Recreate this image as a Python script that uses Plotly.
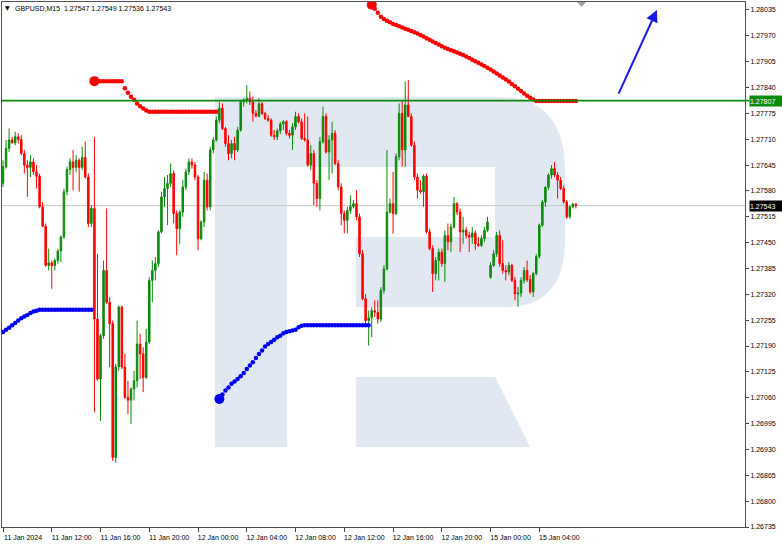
import plotly.graph_objects as go

# ---------------- data (GBPUSD, M15) ----------------
open_p = [1.27599, 1.27641, 1.27687, 1.27708, 1.27701, 1.27716, 1.27709, 1.27674, 1.27645, 1.27639,
          1.27653, 1.27628, 1.27617, 1.27540, 1.27491, 1.27393, 1.27399, 1.27392, 1.27405, 1.27429,
          1.27464, 1.27578, 1.27634, 1.27653, 1.27639, 1.27657, 1.27639, 1.27664, 1.27615, 1.27498,
          1.27536, 1.27258, 1.27107, 1.27216, 1.27380, 1.27300, 1.27246, 1.26910, 1.27138, 1.27288,
          1.27137, 1.27061, 1.27054, 1.27082, 1.27103, 1.27195, 1.27170, 1.27111, 1.27200, 1.27355,
          1.27380, 1.27397, 1.27477, 1.27565, 1.27586, 1.27599, 1.27624, 1.27523, 1.27485, 1.27527,
          1.27590, 1.27628, 1.27653, 1.27645, 1.27615, 1.27460, 1.27502, 1.27607, 1.27540, 1.27683,
          1.27708, 1.27758, 1.27788, 1.27737, 1.27699, 1.27674, 1.27699, 1.27683, 1.27733, 1.27804,
          1.27809, 1.27813, 1.27804, 1.27775, 1.27768, 1.27799, 1.27775, 1.27762, 1.27758, 1.27720,
          1.27716, 1.27731, 1.27748, 1.27754, 1.27725, 1.27720, 1.27741, 1.27767, 1.27754, 1.27712,
          1.27708, 1.27645, 1.27674, 1.27599, 1.27561, 1.27704, 1.27767, 1.27678, 1.27708, 1.27725,
          1.27649, 1.27590, 1.27523, 1.27506, 1.27531, 1.27541, 1.27548, 1.27515, 1.27422, 1.27309,
          1.27254, 1.27261, 1.27279, 1.27275, 1.27258, 1.27330, 1.27384, 1.27527, 1.27548, 1.27523,
          1.27666, 1.27775, 1.27683, 1.27796, 1.27767, 1.27695, 1.27615, 1.27582, 1.27578, 1.27617,
          1.27477, 1.27435, 1.27372, 1.27405, 1.27426, 1.27397, 1.27468, 1.27452, 1.27489, 1.27548,
          1.27527, 1.27477, 1.27481, 1.27468, 1.27464, 1.27474, 1.27447, 1.27443, 1.27460, 1.27481,
          1.27363, 1.27393, 1.27422, 1.27468, 1.27397, 1.27380, 1.27376, 1.27393, 1.27355, 1.27321,
          1.27323, 1.27355, 1.27380, 1.27357, 1.27326, 1.27372, 1.27415, 1.27494, 1.27552, 1.27589,
          1.27620, 1.27636, 1.27620, 1.27607, 1.27586, 1.27552, 1.27515, 1.27540, 1.27547]
high_p = [1.27657, 1.27708, 1.27737, 1.27716, 1.27729, 1.27725, 1.27720, 1.27683, 1.27657, 1.27670,
          1.27662, 1.27645, 1.27624, 1.27552, 1.27498, 1.27435, 1.27405, 1.27410, 1.27435, 1.27468,
          1.27586, 1.27641, 1.27662, 1.27683, 1.27670, 1.27662, 1.27691, 1.27704, 1.27624, 1.27544,
          1.27716, 1.27422, 1.27221, 1.27405, 1.27536, 1.27313, 1.27254, 1.27145, 1.27292, 1.27292,
          1.27170, 1.27103, 1.27086, 1.27128, 1.27254, 1.27221, 1.27187, 1.27233, 1.27363, 1.27405,
          1.27414, 1.27481, 1.27578, 1.27615, 1.27620, 1.27649, 1.27632, 1.27531, 1.27531, 1.27607,
          1.27636, 1.27662, 1.27662, 1.27653, 1.27620, 1.27506, 1.27628, 1.27624, 1.27691, 1.27716,
          1.27767, 1.27804, 1.27800, 1.27741, 1.27720, 1.27708, 1.27716, 1.27741, 1.27809, 1.27813,
          1.27846, 1.27830, 1.27817, 1.27783, 1.27813, 1.27804, 1.27779, 1.27771, 1.27762, 1.27733,
          1.27737, 1.27754, 1.27758, 1.27758, 1.27733, 1.27750, 1.27779, 1.27775, 1.27762, 1.27775,
          1.27767, 1.27695, 1.27683, 1.27607, 1.27716, 1.27792, 1.27775, 1.27720, 1.27754, 1.27733,
          1.27657, 1.27599, 1.27531, 1.27540, 1.27569, 1.27557, 1.27582, 1.27523, 1.27431, 1.27321,
          1.27279, 1.27288, 1.27305, 1.27305, 1.27338, 1.27393, 1.27683, 1.27561, 1.27628, 1.27674,
          1.27800, 1.27809, 1.27855, 1.27859, 1.27775, 1.27704, 1.27624, 1.27607, 1.27622, 1.27624,
          1.27485, 1.27443, 1.27414, 1.27435, 1.27435, 1.27481, 1.27498, 1.27498, 1.27565, 1.27552,
          1.27536, 1.27515, 1.27489, 1.27477, 1.27489, 1.27481, 1.27464, 1.27468, 1.27489, 1.27515,
          1.27401, 1.27431, 1.27477, 1.27481, 1.27456, 1.27393, 1.27401, 1.27397, 1.27363, 1.27338,
          1.27363, 1.27389, 1.27405, 1.27368, 1.27376, 1.27422, 1.27498, 1.27557, 1.27592, 1.27624,
          1.27645, 1.27653, 1.27628, 1.27615, 1.27594, 1.27557, 1.27544, 1.27550, 1.27549]
low_p = [1.27590, 1.27636, 1.27678, 1.27699, 1.27695, 1.27699, 1.27670, 1.27624, 1.27565, 1.27615,
         1.27620, 1.27586, 1.27536, 1.27489, 1.27389, 1.27380, 1.27334, 1.27380, 1.27397, 1.27401,
         1.27460, 1.27569, 1.27620, 1.27582, 1.27628, 1.27578, 1.27632, 1.27611, 1.27489, 1.27489,
         1.27023, 1.27103, 1.27002, 1.27208, 1.27296, 1.27137, 1.26901, 1.26897, 1.27128, 1.27132,
         1.27057, 1.27019, 1.26994, 1.27053, 1.27086, 1.27107, 1.27074, 1.27107, 1.27195, 1.27300,
         1.27355, 1.27389, 1.27473, 1.27540, 1.27494, 1.27590, 1.27498, 1.27418, 1.27447, 1.27515,
         1.27582, 1.27620, 1.27636, 1.27607, 1.27431, 1.27456, 1.27489, 1.27531, 1.27531, 1.27674,
         1.27704, 1.27750, 1.27733, 1.27691, 1.27657, 1.27662, 1.27657, 1.27678, 1.27729, 1.27792,
         1.27800, 1.27796, 1.27754, 1.27765, 1.27765, 1.27771, 1.27758, 1.27754, 1.27716, 1.27708,
         1.27708, 1.27723, 1.27733, 1.27720, 1.27712, 1.27683, 1.27733, 1.27750, 1.27708, 1.27704,
         1.27641, 1.27632, 1.27544, 1.27540, 1.27531, 1.27699, 1.27674, 1.27607, 1.27624, 1.27645,
         1.27582, 1.27494, 1.27473, 1.27473, 1.27523, 1.27536, 1.27506, 1.27414, 1.27305, 1.27246,
         1.27191, 1.27212, 1.27263, 1.27246, 1.27250, 1.27321, 1.27380, 1.27523, 1.27473, 1.27519,
         1.27657, 1.27641, 1.27641, 1.27767, 1.27691, 1.27607, 1.27561, 1.27573, 1.27540, 1.27473,
         1.27431, 1.27326, 1.27355, 1.27355, 1.27389, 1.27351, 1.27431, 1.27426, 1.27485, 1.27519,
         1.27426, 1.27447, 1.27460, 1.27426, 1.27447, 1.27431, 1.27439, 1.27439, 1.27452, 1.27477,
         1.27359, 1.27389, 1.27414, 1.27389, 1.27372, 1.27355, 1.27368, 1.27351, 1.27305, 1.27288,
         1.27313, 1.27347, 1.27351, 1.27321, 1.27313, 1.27368, 1.27410, 1.27489, 1.27540, 1.27582,
         1.27611, 1.27615, 1.27561, 1.27582, 1.27548, 1.27510, 1.27510, 1.27536, 1.27536]
close_p = [1.27641, 1.27687, 1.27708, 1.27701, 1.27716, 1.27709, 1.27674, 1.27645, 1.27639, 1.27653,
           1.27628, 1.27617, 1.27540, 1.27491, 1.27393, 1.27399, 1.27392, 1.27405, 1.27429, 1.27464,
           1.27578, 1.27634, 1.27653, 1.27639, 1.27657, 1.27639, 1.27664, 1.27615, 1.27498, 1.27536,
           1.27258, 1.27107, 1.27216, 1.27380, 1.27300, 1.27246, 1.26910, 1.27138, 1.27288, 1.27137,
           1.27061, 1.27054, 1.27082, 1.27103, 1.27195, 1.27170, 1.27111, 1.27200, 1.27355, 1.27380,
           1.27397, 1.27477, 1.27565, 1.27586, 1.27599, 1.27624, 1.27523, 1.27485, 1.27527, 1.27590,
           1.27628, 1.27653, 1.27645, 1.27615, 1.27460, 1.27502, 1.27607, 1.27540, 1.27683, 1.27708,
           1.27758, 1.27788, 1.27737, 1.27699, 1.27674, 1.27699, 1.27683, 1.27733, 1.27804, 1.27809,
           1.27813, 1.27804, 1.27775, 1.27768, 1.27799, 1.27775, 1.27762, 1.27758, 1.27720, 1.27716,
           1.27731, 1.27748, 1.27754, 1.27725, 1.27720, 1.27741, 1.27767, 1.27754, 1.27712, 1.27708,
           1.27645, 1.27674, 1.27599, 1.27561, 1.27704, 1.27767, 1.27678, 1.27708, 1.27725, 1.27649,
           1.27590, 1.27523, 1.27506, 1.27531, 1.27541, 1.27548, 1.27515, 1.27422, 1.27309, 1.27254,
           1.27261, 1.27279, 1.27275, 1.27258, 1.27330, 1.27384, 1.27527, 1.27548, 1.27523, 1.27666,
           1.27775, 1.27683, 1.27796, 1.27767, 1.27695, 1.27615, 1.27582, 1.27578, 1.27617, 1.27477,
           1.27435, 1.27372, 1.27405, 1.27426, 1.27397, 1.27468, 1.27452, 1.27489, 1.27548, 1.27527,
           1.27477, 1.27481, 1.27468, 1.27464, 1.27474, 1.27447, 1.27443, 1.27460, 1.27481, 1.27502,
           1.27393, 1.27422, 1.27468, 1.27397, 1.27380, 1.27376, 1.27393, 1.27355, 1.27321, 1.27323,
           1.27355, 1.27380, 1.27357, 1.27326, 1.27372, 1.27415, 1.27494, 1.27552, 1.27589, 1.27620,
           1.27636, 1.27620, 1.27607, 1.27586, 1.27552, 1.27515, 1.27540, 1.27547, 1.27543]

# trailing-stop style dotted indicator, split into its up (blue) and down (red) runs
sar_blue_1_start = 0
sar_blue_1 = [1.27225, 1.27231, 1.27236, 1.27242, 1.27248, 1.27254, 1.27260, 1.27264, 1.27268, 1.27273,
              1.27277, 1.27279, 1.27281, 1.27281, 1.27281, 1.27281, 1.27281, 1.27281, 1.27281, 1.27281,
              1.27281, 1.27281, 1.27281, 1.27281, 1.27281, 1.27281, 1.27281, 1.27281, 1.27281, 1.27281]
sar_red_1_start = 30
sar_red_1 = [1.27856, 1.27856, 1.27856, 1.27856, 1.27856, 1.27856, 1.27856, 1.27856, 1.27856, 1.27856,
             1.27838, 1.27827, 1.27817, 1.27809, 1.27800, 1.27793, 1.27787, 1.27782, 1.27779, 1.27779,
             1.27779, 1.27779, 1.27779, 1.27779, 1.27779, 1.27779, 1.27779, 1.27779, 1.27779, 1.27779,
             1.27779, 1.27779, 1.27779, 1.27779, 1.27779, 1.27779, 1.27779, 1.27779, 1.27779, 1.27779,
             1.27779]
sar_blue_2_start = 71
sar_blue_2 = [1.27057, 1.27068, 1.27078, 1.27086, 1.27095, 1.27101, 1.27107, 1.27114, 1.27122, 1.27132,
              1.27141, 1.27149, 1.27160, 1.27170, 1.27179, 1.27189, 1.27195, 1.27200, 1.27206, 1.27212,
              1.27216, 1.27222, 1.27225, 1.27227, 1.27229, 1.27231, 1.27237, 1.27241, 1.27242, 1.27242,
              1.27242, 1.27242, 1.27242, 1.27242, 1.27242, 1.27242, 1.27242, 1.27242, 1.27242, 1.27242,
              1.27242, 1.27242, 1.27242, 1.27242, 1.27242, 1.27242, 1.27242, 1.27242, 1.27242, 1.27242]
sar_red_2_start = 121
sar_red_2 = [1.28048, 1.28038, 1.28028, 1.28018, 1.28012, 1.28008, 1.28004, 1.28000, 1.27997, 1.27994,
             1.27991, 1.27988, 1.27985, 1.27982, 1.27979, 1.27976, 1.27972, 1.27968, 1.27964, 1.27960,
             1.27956, 1.27952, 1.27948, 1.27944, 1.27940, 1.27937, 1.27934, 1.27931, 1.27928, 1.27925,
             1.27922, 1.27918, 1.27914, 1.27910, 1.27906, 1.27902, 1.27898, 1.27894, 1.27890, 1.27885,
             1.27880, 1.27875, 1.27870, 1.27865, 1.27860, 1.27855, 1.27849, 1.27843, 1.27837, 1.27831,
             1.27825, 1.27819, 1.27814, 1.27810, 1.27806, 1.27806, 1.27806, 1.27806, 1.27806, 1.27806,
             1.27806, 1.27806, 1.27806, 1.27806, 1.27806, 1.27806, 1.27806, 1.27806]

resistance_level = 1.27807
last_price = 1.27543
header_text = "GBPUSD,M15  1.27547 1.27549 1.27536 1.27543"

x_tick_bars = [0, 16, 32, 48, 64, 80, 96, 112, 128, 144, 160, 176]
x_tick_labels = ["11 Jan 2024", "11 Jan 12:00", "11 Jan 16:00", "11 Jan 20:00", "12 Jan 00:00",
                 "12 Jan 04:00", "12 Jan 08:00", "12 Jan 12:00", "12 Jan 16:00", "12 Jan 20:00",
                 "15 Jan 00:00", "15 Jan 04:00"]
y_tick_values = [1.26735, 1.26800, 1.26865, 1.26930, 1.26995, 1.27060, 1.27125, 1.27190, 1.27255,
                 1.27320, 1.27385, 1.27450, 1.27515, 1.27580, 1.27645, 1.27710, 1.27775, 1.27840,
                 1.27905, 1.27970, 1.28035]

# forecast arrow (bar position / price of tail and head)
arrow_tail = (201.8, 1.27821)
arrow_head = (214.6, 1.28035)

# ---------------- layout geometry ----------------
W, H = 782, 545
PL, PR, PT, PB = 2, 745, 2, 527
X_RANGE = [-0.33, 243.5]
Y_RANGE = [1.26735, 1.28055]

GREEN = "#0A8A0A"
RED = "#FF0000"
BLUE = "#0000F0"
FONT = "Liberation Sans, Arial, sans-serif"


def P(x, y):
    return f"{(x - PL) / (PR - PL):.5f},{(PB - y) / (PB - PT):.5f}"


bars = list(range(len(close_p)))

fig = go.Figure()

fig.add_trace(go.Candlestick(
    x=bars, open=open_p, high=high_p, low=low_p, close=close_p,
    increasing=dict(line=dict(color=GREEN, width=1), fillcolor=GREEN),
    decreasing=dict(line=dict(color=RED, width=1), fillcolor=RED),
    whiskerwidth=0, showlegend=False, hoverinfo="skip",
))

for start, vals, col, big in [
    (sar_blue_1_start, sar_blue_1, BLUE, False),
    (sar_red_1_start, sar_red_1, RED, True),
    (sar_blue_2_start, sar_blue_2, BLUE, True),
    (sar_red_2_start, sar_red_2, RED, True),
]:
    xs = list(range(start, start + len(vals)))
    fig.add_trace(go.Scatter(x=xs, y=vals, mode="markers",
                             marker=dict(size=4.5, color=col, line=dict(width=0)),
                             showlegend=False, hoverinfo="skip", cliponaxis=True))
    if big:
        fig.add_trace(go.Scatter(x=[xs[0]], y=[vals[0]], mode="markers",
                                 marker=dict(size=10, color=col, line=dict(width=0)),
                                 showlegend=False, hoverinfo="skip"))

# watermark logo
logo_color = "#E2E8F2"
bowl = ("M" + P(215, 97) + " L" + P(500, 97) +
        " C" + P(545, 97) + " " + P(565, 125) + " " + P(565, 170) +
        " L" + P(565, 240) +
        " C" + P(565, 285) + " " + P(545, 307) + " " + P(505, 307) +
        " L" + P(356, 307) + " L" + P(356, 237) + " L" + P(495, 237) + " L" + P(495, 167) +
        " L" + P(287, 167) + " L" + P(287, 447) + " L" + P(215, 447) + " Z")
leg = ("M" + P(356, 377) + " L" + P(495, 377) + " L" + P(530, 447) + " L" + P(356, 447) + " Z")
shapes = [
    dict(type="path", path=bowl, xref="paper", yref="paper", fillcolor=logo_color,
         line=dict(width=0), layer="below"),
    dict(type="path", path=leg, xref="paper", yref="paper", fillcolor=logo_color,
         line=dict(width=0), layer="below"),
    dict(type="line", xref="paper", yref="y", x0=0, x1=1, y0=last_price, y1=last_price,
         line=dict(color="#C8C8C8", width=1), layer="below"),
    dict(type="line", xref="paper", yref="y", x0=0, x1=1.006, y0=resistance_level,
         y1=resistance_level, line=dict(color=GREEN, width=1.6), layer="above"),
    dict(type="path", xref="paper", yref="paper",
         path="M" + P(577, 2) + " L" + P(586, 2) + " L" + P(581.5, 7) + " Z",
         fillcolor="#A0A0A0", line=dict(width=0)),
]

annotations = [
    dict(xref="paper", yref="paper", x=(3 - PL) / (PR - PL), y=(PB - 7.5) / (PB - PT),
         xanchor="left", yanchor="middle", text="▼", showarrow=False,
         font=dict(family="DejaVu Sans", size=6, color="#000000")),
    dict(xref="paper", yref="paper", x=(13 - PL) / (PR - PL), y=(PB - 8) / (PB - PT),
         xanchor="left", yanchor="middle", text=header_text, showarrow=False,
         font=dict(family=FONT, size=7, color="#000000")),
    dict(xref="paper", yref="y", x=1, xshift=4, y=resistance_level, xanchor="left",
         yanchor="middle", text=f"{resistance_level:.5f}", showarrow=False, align="left",
         width=33, height=10, borderpad=0, bgcolor=GREEN,
         font=dict(family=FONT, size=7, color="#FFFFFF")),
    dict(xref="paper", yref="y", x=1, xshift=4, y=last_price, xanchor="left",
         yanchor="middle", text=f"{last_price:.5f}", showarrow=False, align="left",
         width=33, height=10, borderpad=0, bgcolor="#000000",
         font=dict(family=FONT, size=7, color="#FFFFFF")),
    dict(xref="x", yref="y", x=arrow_head[0], y=arrow_head[1],
         axref="x", ayref="y", ax=arrow_tail[0], ay=arrow_tail[1],
         text="", showarrow=True, arrowhead=2, arrowsize=1.2, arrowwidth=2,
         arrowcolor="#1A1AE6"),
]

fig.update_layout(
    width=W, height=H,
    margin=dict(l=PL, r=W - PR, t=PT, b=H - PB),
    paper_bgcolor="#FFFFFF", plot_bgcolor="#FFFFFF",
    showlegend=False,
    shapes=shapes, annotations=annotations,
    font=dict(family=FONT, size=7, color="#000000"),
    xaxis=dict(
        type="linear", range=X_RANGE, tickvals=x_tick_bars, ticktext=x_tick_labels,
        ticks="outside", ticklen=4, tickcolor="#404040", tickwidth=1,
        showgrid=False, zeroline=False, showline=True, linecolor="#505050", linewidth=1,
        mirror=True, ticklabelshift=20, tickfont=dict(family=FONT, size=7, color="#000000"),
        rangeslider=dict(visible=False), automargin=False, fixedrange=True,
    ),
    yaxis=dict(
        side="right", range=Y_RANGE, tickvals=y_tick_values,
        ticktext=[f"{v:.5f}" for v in y_tick_values],
        ticks="outside", ticklen=3, tickcolor="#404040", tickwidth=1,
        showgrid=False, zeroline=False, showline=True, linecolor="#505050", linewidth=1,
        mirror=True, tickfont=dict(family=FONT, size=7, color="#000000"),
        automargin=False, fixedrange=True,
    ),
)

fig.write_html("out.html", config={"displayModeBar": False, "staticPlot": True})

# remove the browser's default page margin so the figure sits at the window's corner
with open("out.html", "r", encoding="utf-8") as fh:
    html = fh.read()
html = html.replace("<head>", "<head><style>html,body{margin:0;padding:0;overflow:hidden;}</style>", 1)
with open("out.html", "w", encoding="utf-8") as fh:
    fh.write(html)
